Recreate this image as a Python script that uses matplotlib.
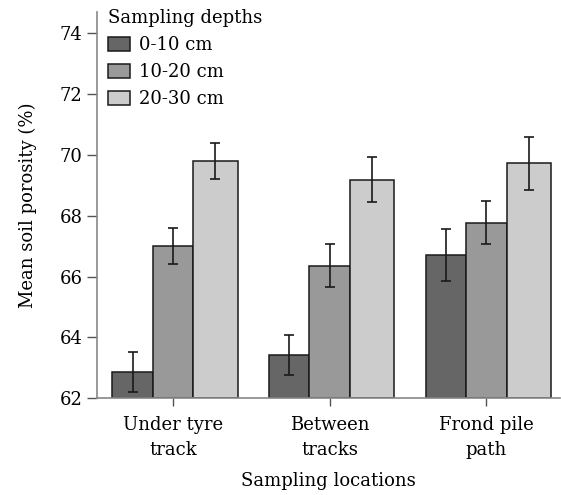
import numpy as np
import matplotlib
matplotlib.use("Agg")
import matplotlib.pyplot as plt

plt.rcParams['font.family'] = ['DejaVu Serif']

# data
locations = ['Under tyre\ntrack', 'Between\ntracks', 'Frond pile\npath']
depths = ['0-10 cm', '10-20 cm', '20-30 cm']
porosity_0_10 = [62.87, 63.42, 66.70]
porosity_10_20 = [67.00, 66.36, 67.77]
porosity_20_30 = [69.80, 69.19, 69.73]
err_0_10 = [0.66, 0.65, 0.86]
err_10_20 = [0.60, 0.70, 0.70]
err_20_30 = [0.59, 0.75, 0.87]

colors = ['#666666', '#999999', '#cccccc']
values = [porosity_0_10, porosity_10_20, porosity_20_30]
errors = [err_0_10, err_10_20, err_20_30]

fs = 13

fig = plt.figure(figsize=(5.61, 4.95), dpi=100)
ax = fig.add_axes([97/561, (495-398.3)/495, (560-97)/561, (398.3-12)/495])

x = np.arange(len(locations))
w = 0.258
w_last = 0.283
offsets = [-w, 0, w/2 + w_last/2]
widths = [w, w, w_last]
for i in range(3):
    ax.bar(x + offsets[i], np.array(values[i]) - 62, width=widths[i], bottom=62,
           color=colors[i], edgecolor='#1a1a1a', linewidth=1.1, label=depths[i])
    ax.errorbar(x + offsets[i], values[i], yerr=errors[i], fmt='none',
                ecolor='#1a1a1a', elinewidth=1.2, capsize=3.5, capthick=1.2)

ax.set_ylim(62, 74.7)
ax.set_xlim(-0.485, 2.47)
ax.set_yticks([62, 64, 66, 68, 70, 72, 74])
ax.set_xticks(x)
ax.set_xticklabels(locations, fontsize=fs, linespacing=1.5)
ax.tick_params(axis='y', labelsize=fs, length=7.5, width=1, color='#555555', pad=3)
ax.tick_params(axis='x', length=6, width=1, color='#555555', pad=7)
for s in ['top', 'right']:
    ax.spines[s].set_visible(False)
for s in ['left', 'bottom']:
    ax.spines[s].set_color('#888888')
    ax.spines[s].set_linewidth(1.2)

ax.set_xlabel('Sampling locations', fontsize=fs, labelpad=9)
ax.set_ylabel('Mean soil porosity (%)', fontsize=fs, labelpad=16)

leg = ax.legend(title='Sampling depths', loc='upper left', frameon=False,
                fontsize=fs, title_fontsize=fs, bbox_to_anchor=(0.0, 1.035),
                handlelength=1.2, handleheight=0.75, handletextpad=0.55,
                labelspacing=0.5, borderaxespad=0.3, borderpad=0.3)
leg._legend_box.align = 'left'

fig.savefig('out.png', dpi=100)
